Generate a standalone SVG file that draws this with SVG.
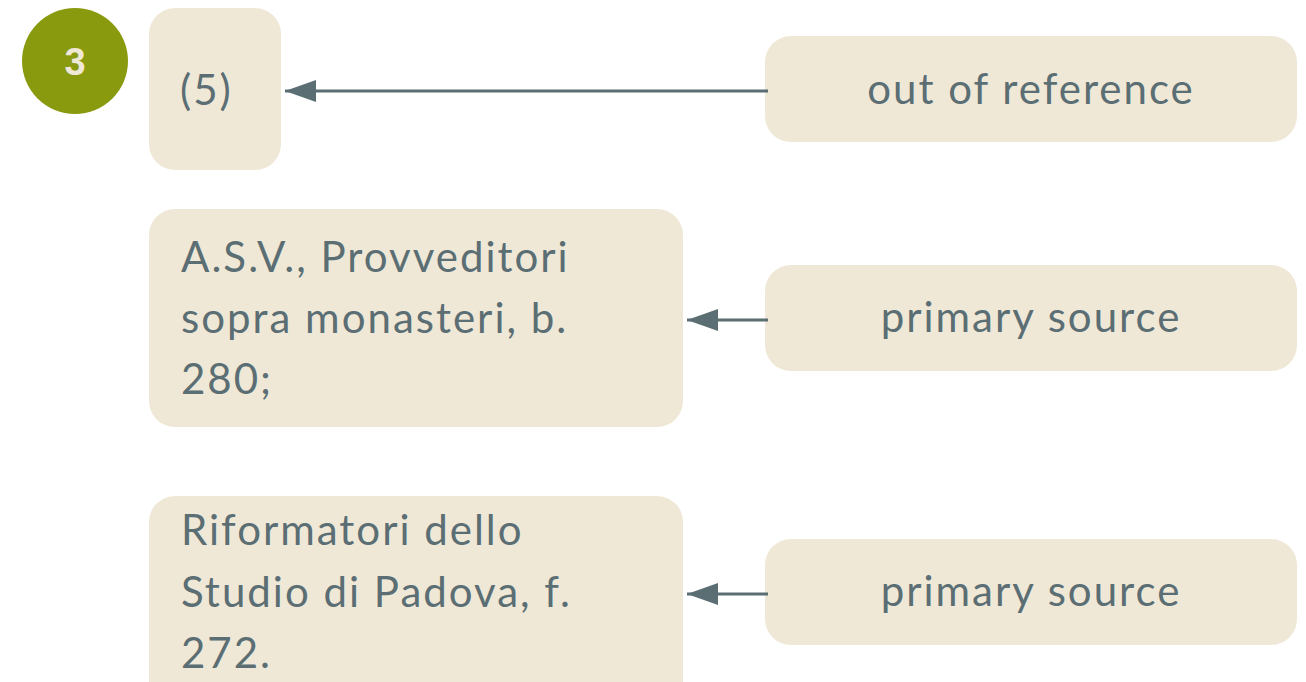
<svg xmlns="http://www.w3.org/2000/svg" width="1306" height="682" viewBox="0 0 1306 682">
<defs>
<style>
.box{fill:#efe8d6;}
.t{font-family:Lato,"Noto Sans",sans-serif;font-size:42px;letter-spacing:2px;fill:#5b6e74;}
.c{text-anchor:middle;}
.num{font-family:"Liberation Sans",Arial,sans-serif;font-weight:bold;font-size:38px;fill:#efe8d6;text-anchor:middle;}
.conn{stroke:#5b6e74;stroke-width:3;fill:none;}
</style>
<marker id="ah" markerWidth="32" markerHeight="22" refX="31" refY="11" orient="auto" markerUnits="userSpaceOnUse">
<path d="M0,0 L31,11 L0,22 Z" fill="#5b6e74"/>
</marker>
</defs>
<rect width="1306" height="682" fill="#ffffff"/>
<g id="badge">
<circle cx="75" cy="61" r="53" fill="#8a9a0f"/>
<text class="num" x="75" y="75">3</text>
</g>
<g id="n1">
<rect class="box" x="149" y="8" width="132" height="162" rx="26"/>
<text class="t" x="180" y="105">(5)</text>
</g>
<g id="n2">
<rect class="box" x="765" y="36" width="532" height="106" rx="26"/>
<text class="t c" x="1031" y="104">out of reference</text>
</g>
<g id="n3">
<rect class="box" x="149" y="209" width="534" height="218" rx="26"/>
<text class="t" x="181" y="272">A.S.V., Provveditori</text>
<text class="t" x="181" y="333">sopra monasteri, b.</text>
<text class="t" x="181" y="394">280;</text>
</g>
<g id="n4">
<rect class="box" x="765" y="265" width="532" height="106" rx="26"/>
<text class="t c" x="1031" y="332">primary source</text>
</g>
<g id="n5">
<rect class="box" x="149" y="496" width="534" height="210" rx="26"/>
<text class="t" x="181" y="545">Riformatori dello</text>
<text class="t" x="181" y="607">Studio di Padova, f.</text>
<text class="t" x="181" y="668">272.</text>
</g>
<g id="n6">
<rect class="box" x="765" y="539" width="532" height="106" rx="26"/>
<text class="t c" x="1031" y="606">primary source</text>
</g>
<g id="connectors">
<line class="conn" x1="768" y1="91" x2="285" y2="91" marker-end="url(#ah)"/>
<line class="conn" x1="768" y1="320" x2="687" y2="320" marker-end="url(#ah)"/>
<line class="conn" x1="768" y1="594" x2="687" y2="594" marker-end="url(#ah)"/>
</g>
</svg>
